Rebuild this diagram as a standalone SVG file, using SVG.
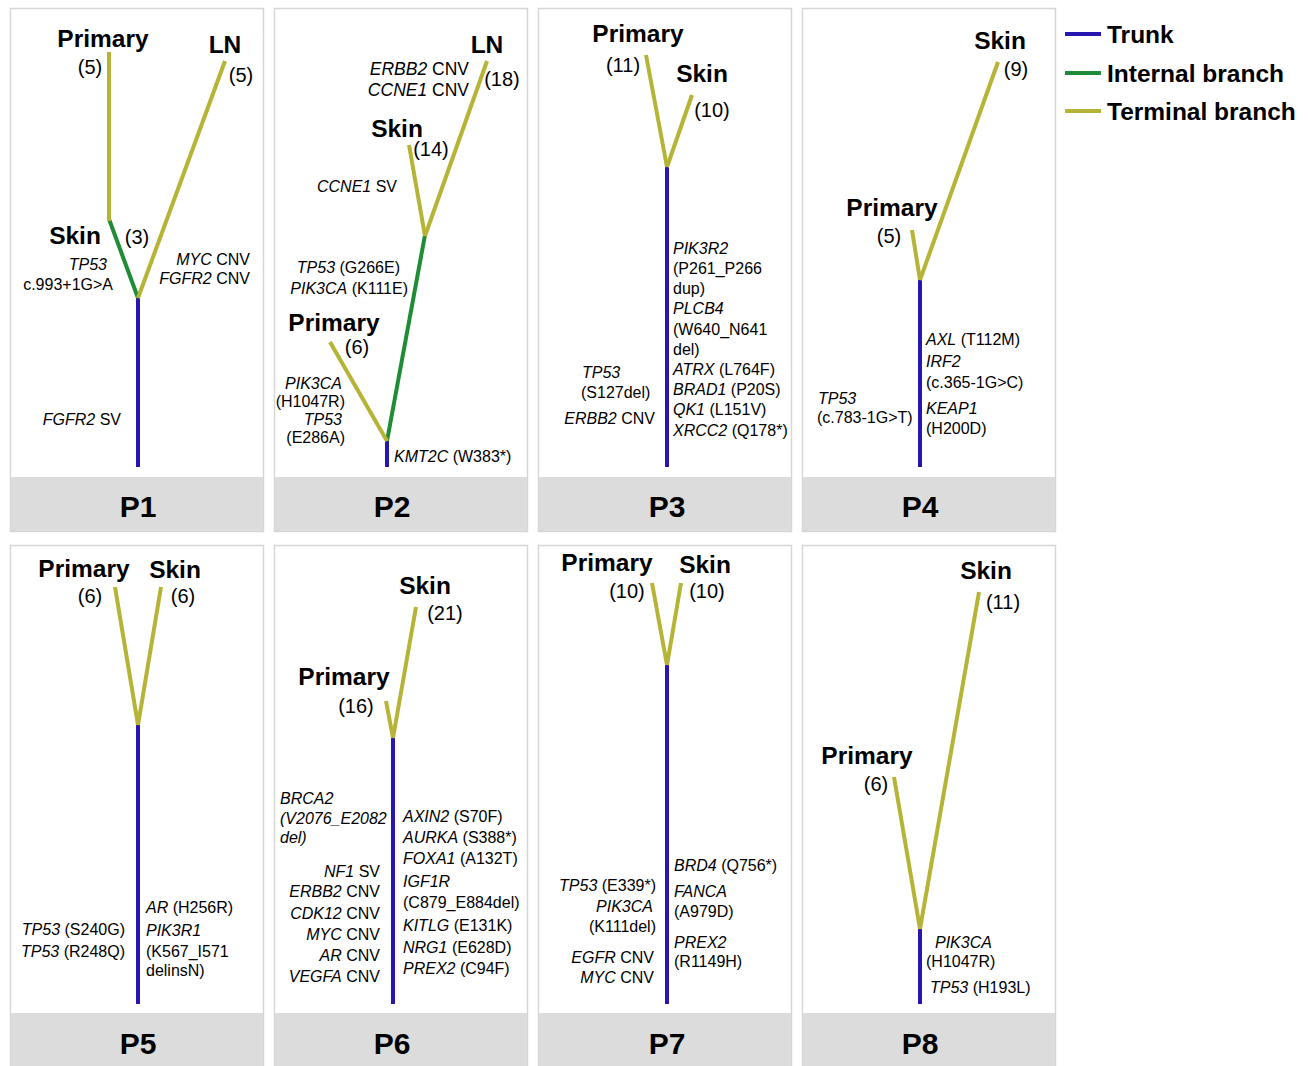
<svg xmlns="http://www.w3.org/2000/svg" width="1308" height="1066" viewBox="0 0 1308 1066">
<style>
text{font-family:"Liberation Sans",Arial,sans-serif;fill:#000}
.lbl{font-size:24.5px;font-weight:bold}
.cnt{font-size:20px}
.mut{font-size:16px}
.big{font-size:17.5px}
.pl{font-size:30px;font-weight:bold;text-anchor:middle}
.i{font-style:italic}
.m{text-anchor:middle}
.e{text-anchor:end}
.panel{fill:#fff;stroke:#d6d6d6;stroke-width:1.5}
.foot{fill:#dcdcdc}
.trunk{stroke:#2816b2;stroke-width:4;fill:none}
.internal{stroke:#1f8c36;stroke-width:4;fill:none}
.terminal{stroke:#b5b436;stroke-width:4;fill:none}
</style>
<rect width="1308" height="1066" fill="#fff"/>

<!-- Legend -->
<g id="legend">
<line class="trunk" x1="1065" y1="34" x2="1101" y2="34"/>
<text class="lbl" x="1107" y="42.5">Trunk</text>
<line class="internal" x1="1065" y1="73" x2="1101" y2="73"/>
<text class="lbl" x="1107" y="81.5">Internal branch</text>
<line class="terminal" x1="1065" y1="111" x2="1101" y2="111"/>
<text class="lbl" x="1107" y="119.5">Terminal branch</text>
</g>

<!-- P1 -->
<g id="P1">
<rect class="panel" x="10.5" y="8.5" width="253" height="523"/>
<rect class="foot" x="11" y="477" width="252" height="54"/>
<text class="pl" x="138" y="517">P1</text>
<g id="P1-connectors">
<line class="trunk" x1="138" y1="298" x2="138" y2="467"/>
<line class="internal" x1="138" y1="298" x2="109" y2="219"/>
<line class="terminal" x1="109" y1="221" x2="109" y2="52"/>
<line class="terminal" x1="138" y1="298" x2="225" y2="61"/>
</g>
<g id="P1-primary"><text class="lbl m" x="103" y="47">Primary</text><text class="cnt m" x="90" y="74">(5)</text></g>
<g id="P1-ln"><text class="lbl m" x="225" y="53">LN</text><text class="cnt m" x="241" y="82">(5)</text></g>
<g id="P1-skin"><text class="lbl m" x="75" y="244">Skin</text><text class="cnt m" x="137" y="244">(3)</text></g>
<g id="P1-muts">
<text class="mut e" x="107" y="269.5"><tspan class="i">TP53</tspan></text>
<text class="mut e" x="113" y="289.5">c.993+1G&gt;A</text>
<text class="mut e" x="250" y="264.5"><tspan class="i">MYC</tspan> CNV</text>
<text class="mut e" x="250" y="283.5"><tspan class="i">FGFR2</tspan> CNV</text>
<text class="mut e" x="121" y="424.5"><tspan class="i">FGFR2</tspan> SV</text>
</g>
</g>

<!-- P2 -->
<g id="P2">
<rect class="panel" x="274.5" y="8.5" width="253" height="523"/>
<rect class="foot" x="275" y="477" width="252" height="54"/>
<text class="pl" x="392" y="517">P2</text>
<g id="P2-connectors">
<line class="trunk" x1="387" y1="440" x2="387" y2="467"/>
<line class="internal" x1="387" y1="441" x2="425" y2="235"/>
<line class="terminal" x1="425" y1="236" x2="409" y2="145"/>
<line class="terminal" x1="425" y1="236" x2="487" y2="61"/>
<line class="terminal" x1="387" y1="441" x2="330" y2="342"/>
</g>
<g id="P2-ln"><text class="lbl m" x="487" y="53">LN</text><text class="cnt m" x="502" y="86">(18)</text></g>
<g id="P2-skin"><text class="lbl m" x="397" y="137">Skin</text><text class="cnt m" x="431" y="156">(14)</text></g>
<g id="P2-primary"><text class="lbl m" x="334" y="331">Primary</text><text class="cnt m" x="357" y="354">(6)</text></g>
<g id="P2-muts">
<text class="mut big e" x="469" y="75"><tspan class="i">ERBB2</tspan> CNV</text>
<text class="mut big e" x="469" y="96"><tspan class="i">CCNE1</tspan> CNV</text>
<text class="mut e" x="397" y="191.5"><tspan class="i">CCNE1</tspan> SV</text>
<text class="mut e" x="400" y="272.5"><tspan class="i">TP53</tspan> (G266E)</text>
<text class="mut e" x="408" y="293.5"><tspan class="i">PIK3CA</tspan> (K111E)</text>
<text class="mut e" x="342" y="388.5"><tspan class="i">PIK3CA</tspan></text>
<text class="mut e" x="345" y="406.5">(H1047R)</text>
<text class="mut e" x="342" y="424.5"><tspan class="i">TP53</tspan></text>
<text class="mut e" x="345" y="442.5">(E286A)</text>
<text class="mut" x="394" y="461.5"><tspan class="i">KMT2C</tspan> (W383*)</text>
</g>
</g>

<!-- P3 -->
<g id="P3">
<rect class="panel" x="538.5" y="8.5" width="253" height="523"/>
<rect class="foot" x="539" y="477" width="252" height="54"/>
<text class="pl" x="667" y="517">P3</text>
<g id="P3-connectors">
<line class="trunk" x1="667" y1="166" x2="667" y2="467"/>
<line class="terminal" x1="667" y1="167" x2="646" y2="55"/>
<line class="terminal" x1="667" y1="167" x2="692" y2="95"/>
</g>
<g id="P3-primary"><text class="lbl m" x="638" y="42">Primary</text><text class="cnt m" x="623" y="72">(11)</text></g>
<g id="P3-skin"><text class="lbl m" x="702" y="82">Skin</text><text class="cnt m" x="712" y="117">(10)</text></g>
<g id="P3-muts">
<text class="mut" x="673" y="253.7"><tspan class="i">PIK3R2</tspan></text>
<text class="mut" x="673" y="273.9">(P261_P266</text>
<text class="mut" x="673" y="294.1">dup)</text>
<text class="mut" x="673" y="314.3"><tspan class="i">PLCB4</tspan></text>
<text class="mut" x="673" y="334.5">(W640_N641</text>
<text class="mut" x="673" y="354.7">del)</text>
<text class="mut" x="673" y="374.9"><tspan class="i">ATRX</tspan> (L764F)</text>
<text class="mut" x="673" y="395.1"><tspan class="i">BRAD1</tspan> (P20S)</text>
<text class="mut" x="673" y="415.3"><tspan class="i">QK1</tspan> (L151V)</text>
<text class="mut" x="673" y="435.5"><tspan class="i">XRCC2</tspan> (Q178*)</text>
<text class="mut" x="582" y="377.5"><tspan class="i">TP53</tspan></text>
<text class="mut" x="581" y="397.5">(S127del)</text>
<text class="mut e" x="655" y="423.5"><tspan class="i">ERBB2</tspan> CNV</text>
</g>
</g>

<!-- P4 -->
<g id="P4">
<rect class="panel" x="802.5" y="8.5" width="253" height="523"/>
<rect class="foot" x="803" y="477" width="252" height="54"/>
<text class="pl" x="920" y="517">P4</text>
<g id="P4-connectors">
<line class="trunk" x1="920" y1="279" x2="920" y2="467"/>
<line class="terminal" x1="920" y1="280" x2="998" y2="62"/>
<line class="terminal" x1="920" y1="280" x2="912" y2="230"/>
</g>
<g id="P4-skin"><text class="lbl m" x="1000" y="49">Skin</text><text class="cnt m" x="1016" y="76">(9)</text></g>
<g id="P4-primary"><text class="lbl m" x="892" y="216">Primary</text><text class="cnt m" x="889" y="243">(5)</text></g>
<g id="P4-muts">
<text class="mut" x="926" y="344.5"><tspan class="i">AXL</tspan> (T112M)</text>
<text class="mut" x="926" y="366.5"><tspan class="i">IRF2</tspan></text>
<text class="mut" x="926" y="387.5">(c.365-1G&gt;C)</text>
<text class="mut" x="926" y="413.5"><tspan class="i">KEAP1</tspan></text>
<text class="mut" x="926" y="433.5">(H200D)</text>
<text class="mut" x="818" y="403.5"><tspan class="i">TP53</tspan></text>
<text class="mut" x="817" y="422.5">(c.783-1G&gt;T)</text>
</g>
</g>

<!-- P5 -->
<g id="P5">
<rect class="panel" x="10.5" y="545.5" width="253" height="522"/>
<rect class="foot" x="11" y="1013" width="252" height="54"/>
<text class="pl" x="138" y="1054">P5</text>
<g id="P5-connectors">
<line class="trunk" x1="138" y1="724" x2="138" y2="1004"/>
<line class="terminal" x1="138" y1="725" x2="115" y2="587"/>
<line class="terminal" x1="138" y1="725" x2="161" y2="587"/>
</g>
<g id="P5-primary"><text class="lbl m" x="84" y="577">Primary</text><text class="cnt m" x="90" y="603">(6)</text></g>
<g id="P5-skin"><text class="lbl m" x="175" y="578">Skin</text><text class="cnt m" x="183" y="603">(6)</text></g>
<g id="P5-muts">
<text class="mut" x="146" y="912.5"><tspan class="i">AR</tspan> (H256R)</text>
<text class="mut" x="146" y="935.5"><tspan class="i">PIK3R1</tspan></text>
<text class="mut" x="146" y="956.5">(K567_I571</text>
<text class="mut" x="146" y="975.5">delinsN)</text>
<text class="mut e" x="125" y="934.5"><tspan class="i">TP53</tspan> (S240G)</text>
<text class="mut e" x="125" y="956.5"><tspan class="i">TP53</tspan> (R248Q)</text>
</g>
</g>

<!-- P6 -->
<g id="P6">
<rect class="panel" x="274.5" y="545.5" width="253" height="522"/>
<rect class="foot" x="275" y="1013" width="252" height="54"/>
<text class="pl" x="392" y="1054">P6</text>
<g id="P6-connectors">
<line class="trunk" x1="393" y1="737" x2="393" y2="1004"/>
<line class="terminal" x1="393" y1="738" x2="416" y2="607"/>
<line class="terminal" x1="393" y1="738" x2="386" y2="701"/>
</g>
<g id="P6-skin"><text class="lbl m" x="425" y="594">Skin</text><text class="cnt m" x="445" y="620">(21)</text></g>
<g id="P6-primary"><text class="lbl m" x="344" y="685">Primary</text><text class="cnt m" x="356" y="713">(16)</text></g>
<g id="P6-muts">
<text class="mut i" x="280" y="803.5">BRCA2</text>
<text class="mut i" x="280" y="823.5">(V2076_E2082</text>
<text class="mut i" x="280" y="842.5">del)</text>
<text class="mut e" x="380" y="876.5"><tspan class="i">NF1</tspan> SV</text>
<text class="mut e" x="380" y="896.5"><tspan class="i">ERBB2</tspan> CNV</text>
<text class="mut e" x="380" y="918.5"><tspan class="i">CDK12</tspan> CNV</text>
<text class="mut e" x="380" y="939.5"><tspan class="i">MYC</tspan> CNV</text>
<text class="mut e" x="380" y="960.5"><tspan class="i">AR</tspan> CNV</text>
<text class="mut e" x="380" y="981.5"><tspan class="i">VEGFA</tspan> CNV</text>
<text class="mut" x="403" y="821.5"><tspan class="i">AXIN2</tspan> (S70F)</text>
<text class="mut" x="403" y="842.5"><tspan class="i">AURKA</tspan> (S388*)</text>
<text class="mut" x="403" y="863.5"><tspan class="i">FOXA1</tspan> (A132T)</text>
<text class="mut" x="403" y="886.5"><tspan class="i">IGF1R</tspan></text>
<text class="mut" x="403" y="907.5">(C879_E884del)</text>
<text class="mut" x="403" y="930.5"><tspan class="i">KITLG</tspan> (E131K)</text>
<text class="mut" x="403" y="952.5"><tspan class="i">NRG1</tspan> (E628D)</text>
<text class="mut" x="403" y="973.5"><tspan class="i">PREX2</tspan> (C94F)</text>
</g>
</g>

<!-- P7 -->
<g id="P7">
<rect class="panel" x="538.5" y="545.5" width="253" height="522"/>
<rect class="foot" x="539" y="1013" width="252" height="54"/>
<text class="pl" x="667" y="1054">P7</text>
<g id="P7-connectors">
<line class="trunk" x1="667" y1="664" x2="667" y2="1004"/>
<line class="terminal" x1="667" y1="665" x2="652" y2="583"/>
<line class="terminal" x1="667" y1="665" x2="681" y2="583"/>
</g>
<g id="P7-primary"><text class="lbl m" x="607" y="571">Primary</text><text class="cnt m" x="627" y="598">(10)</text></g>
<g id="P7-skin"><text class="lbl m" x="705" y="573">Skin</text><text class="cnt m" x="707" y="598">(10)</text></g>
<g id="P7-muts">
<text class="mut" x="674" y="870.5"><tspan class="i">BRD4</tspan> (Q756*)</text>
<text class="mut" x="674" y="896.5"><tspan class="i">FANCA</tspan></text>
<text class="mut" x="674" y="916.5">(A979D)</text>
<text class="mut" x="674" y="947.5"><tspan class="i">PREX2</tspan></text>
<text class="mut" x="674" y="966.5">(R1149H)</text>
<text class="mut e" x="656" y="890.5"><tspan class="i">TP53</tspan> (E339*)</text>
<text class="mut e" x="653" y="911.5"><tspan class="i">PIK3CA</tspan></text>
<text class="mut e" x="656" y="931.5">(K111del)</text>
<text class="mut e" x="654" y="962.5"><tspan class="i">EGFR</tspan> CNV</text>
<text class="mut e" x="654" y="982.5"><tspan class="i">MYC</tspan> CNV</text>
</g>
</g>

<!-- P8 -->
<g id="P8">
<rect class="panel" x="802.5" y="545.5" width="253" height="522"/>
<rect class="foot" x="803" y="1013" width="252" height="54"/>
<text class="pl" x="920" y="1054">P8</text>
<g id="P8-connectors">
<line class="trunk" x1="920" y1="927" x2="920" y2="1004"/>
<line class="terminal" x1="920" y1="929" x2="979" y2="592"/>
<line class="terminal" x1="920" y1="929" x2="894" y2="777"/>
</g>
<g id="P8-skin"><text class="lbl m" x="986" y="579">Skin</text><text class="cnt m" x="1003" y="609">(11)</text></g>
<g id="P8-primary"><text class="lbl m" x="867" y="764">Primary</text><text class="cnt m" x="876" y="791">(6)</text></g>
<g id="P8-muts">
<text class="mut" x="935" y="947.5"><tspan class="i">PIK3CA</tspan></text>
<text class="mut" x="926" y="966.5">(H1047R)</text>
<text class="mut" x="930" y="992.5"><tspan class="i">TP53</tspan> (H193L)</text>
</g>
</g>
</svg>
